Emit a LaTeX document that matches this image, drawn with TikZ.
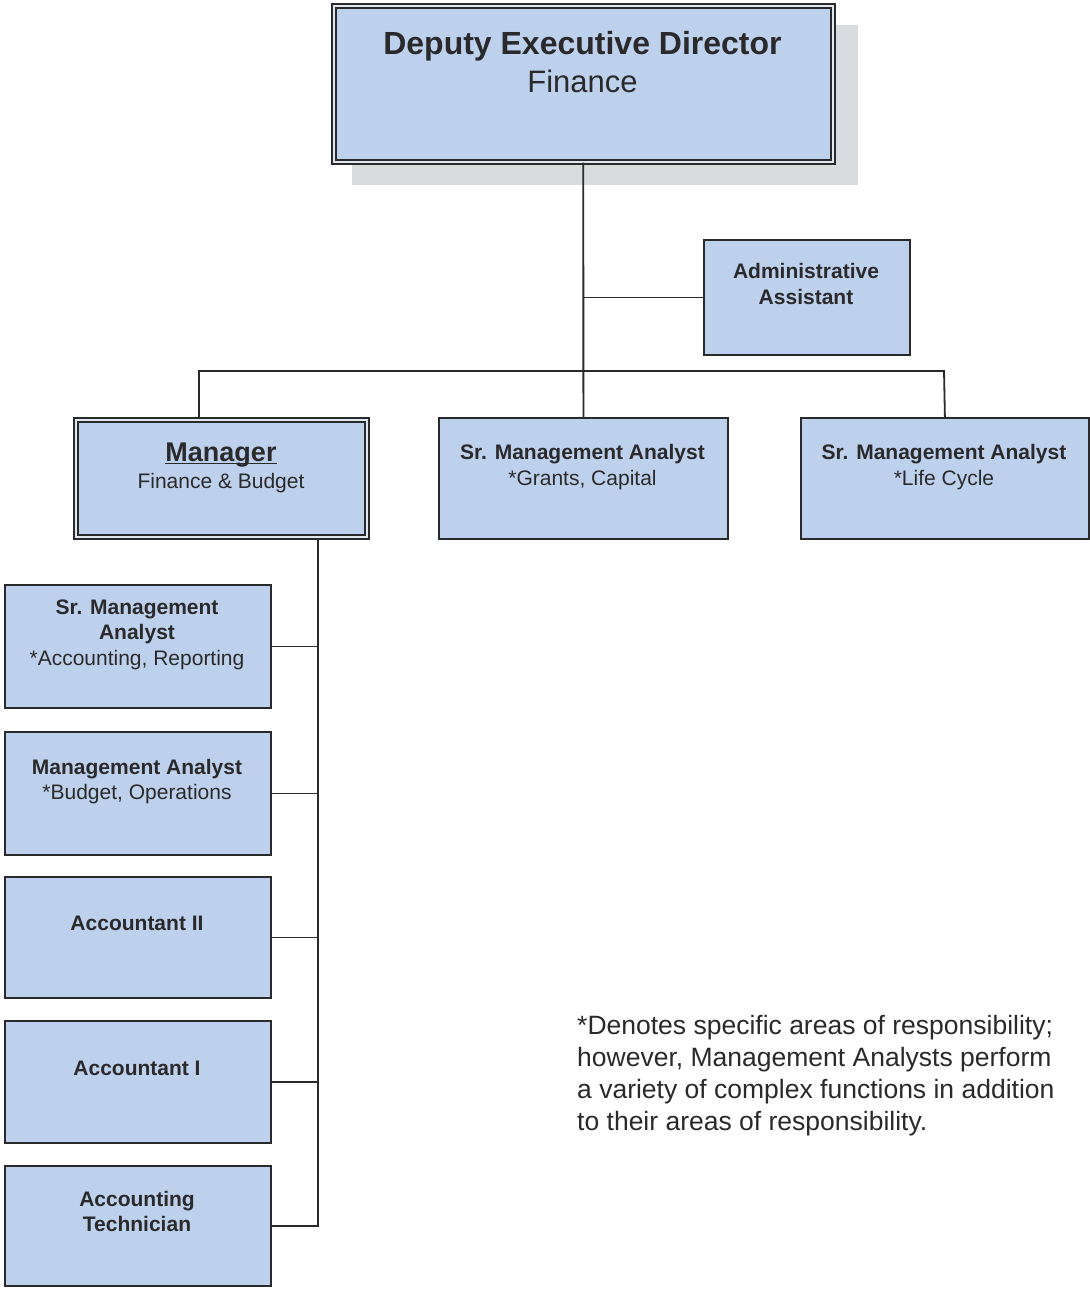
\documentclass[tikz,border=0pt]{standalone}
\usepackage{fontspec}
\setmainfont{Liberation Sans}
\definecolor{boxfill}{RGB}{190,209,236}
\definecolor{ink}{RGB}{42,42,44}
\definecolor{shadowgray}{RGB}{216,220,223}
\definecolor{gapfill}{RGB}{226,232,240}
% bar under a word, crossing its descenders
\newcommand\barunder[1]{\setbox0\hbox{#1}\rlap{\rule[-3.2pt]{\wd0}{1.7pt}}\box0}
\begin{document}
\begin{tikzpicture}[x=1pt,y=-1pt,
  box/.style={draw=ink, line width=1.8pt, fill=boxfill, inner sep=0pt, anchor=north west},
  dbox/.style={draw=ink, line width=1.6pt, double=gapfill, double distance=2.4pt, fill=boxfill, inner sep=0pt, anchor=north west},
  link/.style={draw=ink, line width=1.8pt},
  lbl/.style={anchor=base, inner sep=0pt, text=ink, font=\fontsize{21}{25}\selectfont},
  lblb/.style={lbl, font=\fontsize{21}{25}\selectfont\bfseries},
  note/.style={anchor=base west, inner sep=0pt, text=ink, font=\fontsize{26.5}{32}\selectfont},
]
\useasboundingbox[fill=white] (0,0) rectangle (1089,1289);

% flat shadow behind the director box
\fill[shadowgray] (352,25) rectangle (858,185);

% boxes
\node[dbox, minimum width=499pt, minimum height=156pt] (dir) at (333,5) {};
\node[box, minimum width=206pt, minimum height=115pt] (admin) at (703,239) {};
\node[dbox, minimum width=291pt, minimum height=117pt] (mgr) at (75,419) {};
\node[box, minimum width=289pt, minimum height=121pt] (grants) at (438,417) {};
\node[box, minimum width=288pt, minimum height=121pt] (life) at (800,417) {};
\node[box, minimum width=266pt, minimum height=123pt] (sma) at (4,584) {};
\node[box, minimum width=266pt, minimum height=123pt] (ma) at (4,731) {};
\node[box, minimum width=266pt, minimum height=121pt] (acc2) at (4,876) {};
\node[box, minimum width=266pt, minimum height=122pt] (acc1) at (4,1020) {};
\node[box, minimum width=266pt, minimum height=120pt] (tech) at (4,1165) {};

% connectors
\coordinate (mgrtop) at (199,417);
\coordinate (busR) at (944,371);
\coordinate (mgrdown) at (318,538);
\draw[link] (dir.south) -- (grants.north);
\draw[link] (admin.west) -- (admin.west -| dir.south);
\draw[link] (mgrtop) |- (busR) -- (life.north);
\draw[link] (mgrdown) |- (tech.east);
\draw[link] (sma.east) -- (sma.east -| mgrdown);
\draw[link] (ma.east) -- (ma.east -| mgrdown);
\draw[link] (acc2.east) -- (acc2.east -| mgrdown);
\draw[link] (acc1.east) -- (acc1.east -| mgrdown);

% labels
\node[lbl, font=\fontsize{32}{38}\selectfont\bfseries] (dir1) at (582.5,55) {Deputy Executive Director};
\node[lbl, font=\fontsize{31}{38}\selectfont] (dir2) at (582.5,93) {Finance};

\node[lblb] (admin1) at (806,278) {Administrative};
\node[lblb] (admin2) at (806,304) {Assistant};

\node[lbl, font=\fontsize{27}{32}\selectfont\bfseries] (mgr1) at (221,461) {\barunder{Manager}};
\node[lbl] (mgr2) at (221,488) {Finance \& Budget};

\node[lblb] (grants1) at (582.5,459) {Sr. Management Analyst};
\node[lbl] (grants2) at (582.5,485) {*Grants, Capital};

\node[lblb] (life1) at (944,459) {Sr. Management Analyst};
\node[lbl] (life2) at (944,485) {*Life Cycle};

\node[lblb] (sma1) at (137,614) {Sr. Management};
\node[lblb] (sma2) at (137,639) {Analyst};
\node[lbl] (sma3) at (137,665) {*Accounting, Reporting};

\node[lblb] (ma1) at (137,774) {Management Analyst};
\node[lbl] (ma2) at (137,799) {*Budget, Operations};

\node[lblb] (acc2t) at (137,930) {Accountant II};
\node[lblb] (acc1t) at (137,1075) {Accountant I};

\node[lblb] (tech1) at (137,1206) {Accounting};
\node[lblb] (tech2) at (137,1231) {Technician};

% footnote
\node[note] (note1) at (577,1034) {*Denotes specific areas of responsibility;};
\node[note] (note2) at (577,1066) {however, Management Analysts perform};
\node[note] (note3) at (577,1098) {a variety of complex functions in addition};
\node[note] (note4) at (577,1130) {to their areas of responsibility.};
\end{tikzpicture}
\end{document}
